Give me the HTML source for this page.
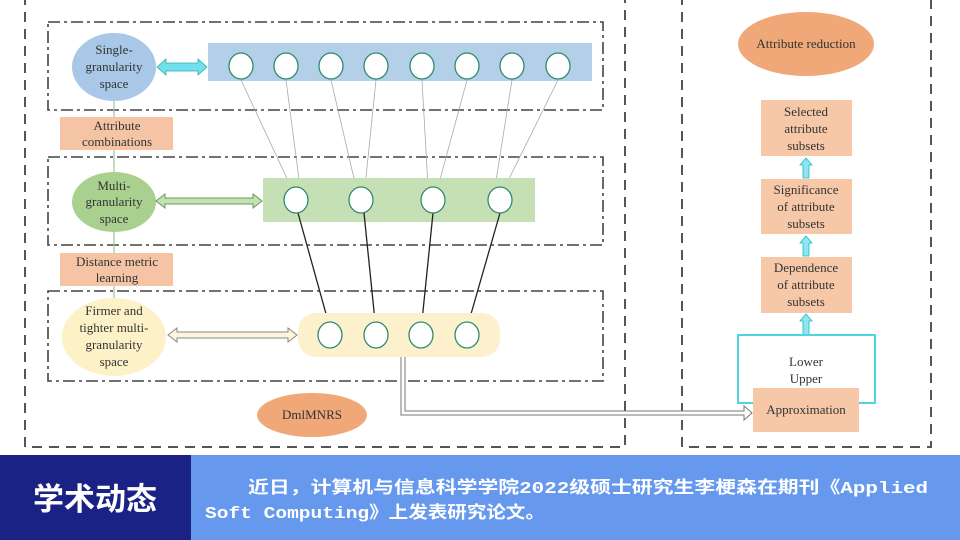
<!DOCTYPE html>
<html><head><meta charset="utf-8"><style>
html,body{margin:0;padding:0;background:#fff;}
svg{display:block}
</style></head><body>
<svg width="960" height="540" viewBox="0 0 960 540" xmlns="http://www.w3.org/2000/svg" font-family="Liberation Serif, serif">
<defs>
<marker id="ab" markerWidth="6" markerHeight="6" refX="5" refY="3" orient="auto"><path d="M0,0 L6,3 L0,6 z" fill="#222"/></marker>
<marker id="ag" markerWidth="6" markerHeight="6" refX="5" refY="3" orient="auto"><path d="M0,0 L6,3 L0,6" fill="none" stroke="#2e8b6e" stroke-width="1"/></marker>
</defs>
<rect width="960" height="540" fill="#fff"/>
<path d="M25,-5 L25,447 L625,447 L625,-5" fill="none" stroke="#555" stroke-width="2" stroke-dasharray="10,7"/>
<path d="M682,-5 L682,447 L931,447 L931,-5" fill="none" stroke="#555" stroke-width="2" stroke-dasharray="10,7"/>
<g fill="none" stroke="#444" stroke-width="1.6" stroke-dasharray="12,4,3,4">
<rect x="48" y="22" width="555" height="88"/>
<rect x="48" y="157" width="555" height="88"/>
<rect x="48" y="291" width="555" height="90"/>
</g>
<line x1="114" y1="100" x2="114" y2="298" stroke="#9cc3a0" stroke-width="1.2"/>
<g font-size="13" text-anchor="middle" fill="#333">
<ellipse cx="114" cy="67" rx="42" ry="34" fill="#a9c8e8"/>
<text x="114" y="54">Single-</text>
<text x="114" y="71">granularity</text>
<text x="114" y="88">space</text>
</g>
<rect x="208" y="43" width="384" height="38" fill="#b4cfe8"/>
<path d="M157,67 L166,59 L166,63 L198,63 L198,59 L207,67 L198,75 L198,71 L166,71 L166,75 Z" fill="#6fe0ee" stroke="#3aa" stroke-width="0.8"/>
<g stroke="#aaa" stroke-width="0.8" marker-end="url(#ag)">
<line x1="241" y1="80" x2="291" y2="187"/><line x1="286" y1="80" x2="300" y2="187"/>
<line x1="331" y1="80" x2="356" y2="187"/><line x1="376" y1="80" x2="365" y2="187"/>
<line x1="422" y1="80" x2="428" y2="187"/><line x1="467" y1="80" x2="438" y2="187"/>
<line x1="512" y1="80" x2="495" y2="187"/><line x1="558" y1="80" x2="505" y2="187"/>
</g>
<g fill="#fff" stroke="#2e8b6e" stroke-width="1.3">
<ellipse cx="241" cy="66" rx="12" ry="13"/><ellipse cx="286" cy="66" rx="12" ry="13"/>
<ellipse cx="331" cy="66" rx="12" ry="13"/><ellipse cx="376" cy="66" rx="12" ry="13"/>
<ellipse cx="422" cy="66" rx="12" ry="13"/><ellipse cx="467" cy="66" rx="12" ry="13"/>
<ellipse cx="512" cy="66" rx="12" ry="13"/><ellipse cx="558" cy="66" rx="12" ry="13"/>
</g>
<g font-size="13" text-anchor="middle" fill="#333">
<rect x="60" y="117" width="113" height="33" fill="#f4c4a4"/>
<text x="117" y="130">Attribute</text>
<text x="117" y="146">combinations</text>
<ellipse cx="114" cy="202" rx="42" ry="30" fill="#a9d08e"/>
<text x="114" y="190">Multi-</text>
<text x="114" y="206">granularity</text>
<text x="114" y="223">space</text>
</g>
<rect x="263" y="178" width="272" height="44" fill="#c5e0b4"/>
<path d="M156,201 L165,194 L165,198 L253,198 L253,194 L262,201 L253,208 L253,204 L165,204 L165,208 Z" fill="#c5e0b4" stroke="#6a9a5a" stroke-width="1"/>
<g stroke="#222" stroke-width="1.3" marker-end="url(#ab)">
<line x1="298" y1="213" x2="328" y2="321"/><line x1="364" y1="213" x2="375" y2="321"/>
<line x1="433" y1="213" x2="422" y2="321"/><line x1="500" y1="213" x2="469" y2="321"/>
</g>
<g fill="#fff" stroke="#2e8b6e" stroke-width="1.3">
<ellipse cx="296" cy="200" rx="12" ry="13"/><ellipse cx="361" cy="200" rx="12" ry="13"/>
<ellipse cx="433" cy="200" rx="12" ry="13"/><ellipse cx="500" cy="200" rx="12" ry="13"/>
</g>
<g font-size="13" text-anchor="middle" fill="#333">
<rect x="60" y="253" width="113" height="33" fill="#f4c4a4"/>
<text x="117" y="266">Distance metric</text>
<text x="117" y="282">learning</text>
<ellipse cx="114" cy="337" rx="52" ry="39" fill="#fdf1c8"/>
<text x="114" y="315">Firmer and</text>
<text x="114" y="332">tighter multi-</text>
<text x="114" y="349">granularity</text>
<text x="114" y="366">space</text>
</g>
<rect x="298" y="313" width="202" height="44" rx="18" fill="#fdf0cc"/>
<path d="M168,335 L177,328 L177,332 L288,332 L288,328 L297,335 L288,342 L288,338 L177,338 L177,342 Z" fill="#fdf5dc" stroke="#888" stroke-width="1"/>
<g fill="#fff" stroke="#2e8b6e" stroke-width="1.3">
<ellipse cx="330" cy="335" rx="12" ry="13"/><ellipse cx="376" cy="335" rx="12" ry="13"/>
<ellipse cx="421" cy="335" rx="12" ry="13"/><ellipse cx="467" cy="335" rx="12" ry="13"/>
</g>
<ellipse cx="312" cy="415" rx="55" ry="22" fill="#f0a878"/>
<text x="312" y="419" font-size="13" text-anchor="middle" fill="#333">DmlMNRS</text>
<path d="M401,357 L401,415 L744,415 L744,420 L752,413 L744,406 L744,411 L405,411 L405,357" fill="#fff" stroke="#777" stroke-width="1"/>
<g font-size="13" text-anchor="middle" fill="#333">
<ellipse cx="806" cy="44" rx="68" ry="32" fill="#f0a878"/>
<text x="806" y="48">Attribute reduction</text>
<rect x="761" y="100" width="91" height="56" fill="#f6c8a8"/>
<text x="806" y="116">Selected</text>
<text x="806" y="133">attribute</text>
<text x="806" y="150">subsets</text>
<rect x="761" y="179" width="91" height="55" fill="#f6c8a8"/>
<text x="806" y="194">Significance</text>
<text x="806" y="211">of attribute</text>
<text x="806" y="228">subsets</text>
<rect x="761" y="257" width="91" height="56" fill="#f6c8a8"/>
<text x="806" y="272">Dependence</text>
<text x="806" y="289">of attribute</text>
<text x="806" y="306">subsets</text>
</g>
<g fill="#8ee6f2" stroke="#2bb" stroke-width="0.8">
<path d="M806,158 L812,165 L809,165 L809,178 L803,178 L803,165 L800,165 Z"/>
<path d="M806,236 L812,243 L809,243 L809,256 L803,256 L803,243 L800,243 Z"/>
<path d="M806,314 L812,321 L809,321 L809,335 L803,335 L803,321 L800,321 Z"/>
</g>
<path d="M753,403 L738,403 L738,335 L875,335 L875,403 L859,403" fill="none" stroke="#4dd6e0" stroke-width="2"/>
<g font-size="13" text-anchor="middle" fill="#333">
<text x="806" y="366">Lower</text>
<text x="806" y="383">Upper</text>
<rect x="753" y="388" width="106" height="44" fill="#f6c8a8"/>
<text x="806" y="414">Approximation</text>
</g>
<rect x="0" y="455" width="960" height="85" fill="#6699ee"/>
<rect x="0" y="455" width="191" height="85" fill="#1b2285"/>
<text x="95" y="510" font-size="31" font-weight="bold" text-anchor="middle" fill="#fff" font-family="Liberation Sans, Noto Sans CJK SC, sans-serif">学术动态</text>
<g fill="#fff" font-size="17" font-weight="bold" font-family="Liberation Mono, Noto Sans CJK SC, monospace">
<text x="248" y="493" textLength="680" lengthAdjust="spacingAndGlyphs">近日，计算机与信息科学学院2022级硕士研究生李梗森在期刊《Applied</text>
<text x="205" y="518" textLength="340" lengthAdjust="spacingAndGlyphs">Soft Computing》上发表研究论文。</text>
</g>
</svg>
</body></html>
